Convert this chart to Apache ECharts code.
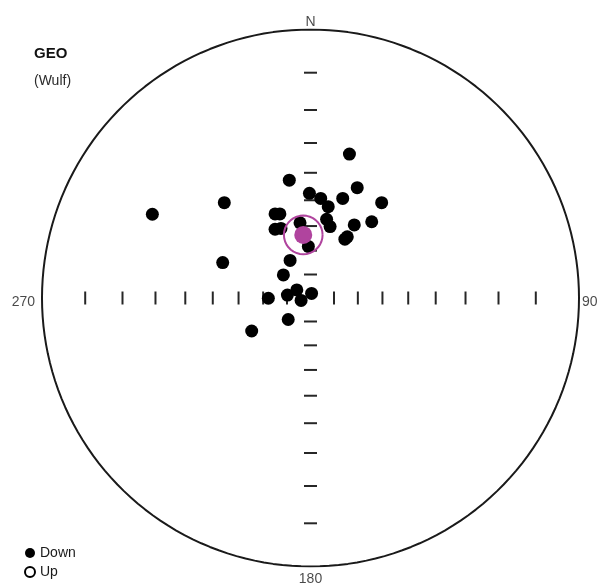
<!DOCTYPE html>
<html>
<head>
<meta charset="utf-8">
<script src="https://cdn.jsdelivr.net/npm/echarts@6/dist/echarts.min.js"></script>
<style>
html, body { margin: 0; padding: 0; background: #fff; }
#chart { width: 597px; height: 583px; }
</style>
</head>
<body>
<div id="chart"></div>
<script>
// Site directions (lower hemisphere) on the equal-angle (Wulff) net, unit radius:
// east and north components of each projected point.
const eastCoord = [
  -0.589, -0.321, -0.327, -0.219, -0.157, -0.083, -0.086, -0.051,
  -0.035,  0.004, -0.101, -0.076, -0.132, -0.110, -0.132, -0.114,
  -0.079, -0.039, -0.008, -0.004,  0.038,  0.066,  0.060,  0.073,
   0.120,  0.145,  0.174,  0.265,  0.228,  0.163,  0.137,  0.128
];
const northCoord = [
   0.312,  0.355,  0.132, -0.123, -0.001, -0.080,  0.011,  0.030,
  -0.009,  0.017,  0.086,  0.140,  0.256,  0.259,  0.313,  0.313,
   0.439,  0.280,  0.192,  0.390,  0.371,  0.340,  0.293,  0.266,
   0.371,  0.536,  0.411,  0.355,  0.284,  0.272,  0.228,  0.219
];

// Mean direction and radius of its 95% confidence cone (projection units)
const meanEast = -0.027;
const meanNorth = 0.235;
const coneRadius = 0.072;

// Inclination graduations along the N-S and E-W diameters
const tickInclinations = [10, 20, 30, 40, 50, 60, 70, 80];

// Declination labels around the primitive
const cardinalLabels = ['N', '90', '180', '270'];

const FONT = '"Liberation Sans", Arial, Helvetica, sans-serif';
const deg = Math.PI / 180;
const wulff = inc => Math.tan((90 - inc) / 2 * deg);

const downPoints = eastCoord.map((e, i) => [e, northCoord[i]]);

const primitive = [];
for (let a = 0; a <= 360; a += 2) primitive.push([Math.cos(a * deg), Math.sin(a * deg)]);

const cone = [];
for (let a = 0; a <= 360; a += 5) {
  cone.push([meanEast + coneRadius * Math.cos(a * deg), meanNorth + coneRadius * Math.sin(a * deg)]);
}

const ewTicks = [];
const nsTicks = [];
tickInclinations.forEach(inc => {
  const r = wulff(inc);
  ewTicks.push([r, 0], [-r, 0]);
  nsTicks.push([0, r], [0, -r]);
});

const cardinalPos = [[0, 1], [1, 0], [0, -1], [-1, 0]];
const cardinalPlacement = [
  { position: 'top', distance: 2, offset: [0, 2] },
  { position: 'right', distance: 3, offset: [0, 4] },
  { position: 'bottom', distance: 6, offset: [0, 0] },
  { position: 'left', distance: 7, offset: [0, 4] }
];

const chart = echarts.init(document.getElementById('chart'), null, { renderer: 'canvas' });

chart.setOption({
  animation: false,
  backgroundColor: '#fff',
  title: {
    text: 'GEO',
    subtext: '(Wulf)',
    left: 29,
    top: 40,
    itemGap: 9,
    textStyle: { fontFamily: FONT, fontSize: 15, fontWeight: 'bold', color: '#111', lineHeight: 18 },
    subtextStyle: { fontFamily: FONT, fontSize: 14, color: '#2a2a2a', lineHeight: 18 }
  },
  legend: {
    orient: 'vertical',
    left: 24,
    top: 546,
    itemWidth: 10,
    itemHeight: 10,
    itemGap: 5,
    padding: 0,
    selectedMode: false,
    textStyle: { fontFamily: FONT, fontSize: 14, color: '#1a1a1a' },
    data: [
      { name: 'Down', icon: 'circle' },
      { name: 'Up', icon: 'circle' }
    ]
  },
  grid: { left: 42, top: 29.5, width: 537, height: 537 },
  xAxis: { type: 'value', min: -1, max: 1, show: false },
  yAxis: { type: 'value', min: -1, max: 1, show: false },
  series: [
    {
      name: 'primitive',
      type: 'line',
      data: primitive,
      showSymbol: false,
      silent: true,
      lineStyle: { color: '#1a1a1a', width: 2 },
      z: 1
    },
    {
      name: 'ewTicks',
      type: 'scatter',
      data: ewTicks,
      symbol: 'rect',
      symbolSize: [2, 13],
      silent: true,
      itemStyle: { color: '#262626', opacity: 1 },
      z: 2
    },
    {
      name: 'nsTicks',
      type: 'scatter',
      data: nsTicks,
      symbol: 'rect',
      symbolSize: [13, 2],
      silent: true,
      itemStyle: { color: '#262626', opacity: 1 },
      z: 2
    },
    {
      name: 'cardinal',
      type: 'scatter',
      data: cardinalPos.map((p, i) => ({
        value: p,
        label: {
          show: true,
          formatter: cardinalLabels[i],
          position: cardinalPlacement[i].position,
          distance: cardinalPlacement[i].distance,
          offset: cardinalPlacement[i].offset
        }
      })),
      symbolSize: 0,
      silent: true,
      label: { fontFamily: FONT, fontSize: 14, color: '#1a1a1a' },
      z: 2
    },
    {
      name: 'Down',
      type: 'scatter',
      data: downPoints,
      symbol: 'circle',
      symbolSize: 13,
      itemStyle: { color: '#000', opacity: 1 },
      z: 3
    },
    {
      name: 'Up',
      type: 'scatter',
      data: [],
      symbol: 'circle',
      symbolSize: 9,
      itemStyle: { color: '#fff', borderColor: '#000', borderWidth: 2, opacity: 1 },
      z: 3
    },
    {
      name: 'cone',
      type: 'line',
      data: cone,
      showSymbol: false,
      smooth: false,
      silent: true,
      lineStyle: { color: '#b0449e', width: 2 },
      z: 4
    },
    {
      name: 'mean',
      type: 'scatter',
      data: [[meanEast, meanNorth]],
      symbol: 'circle',
      symbolSize: 18,
      itemStyle: { color: '#b0449e', opacity: 1 },
      z: 5
    }
  ]
});
</script>
</body>
</html>
